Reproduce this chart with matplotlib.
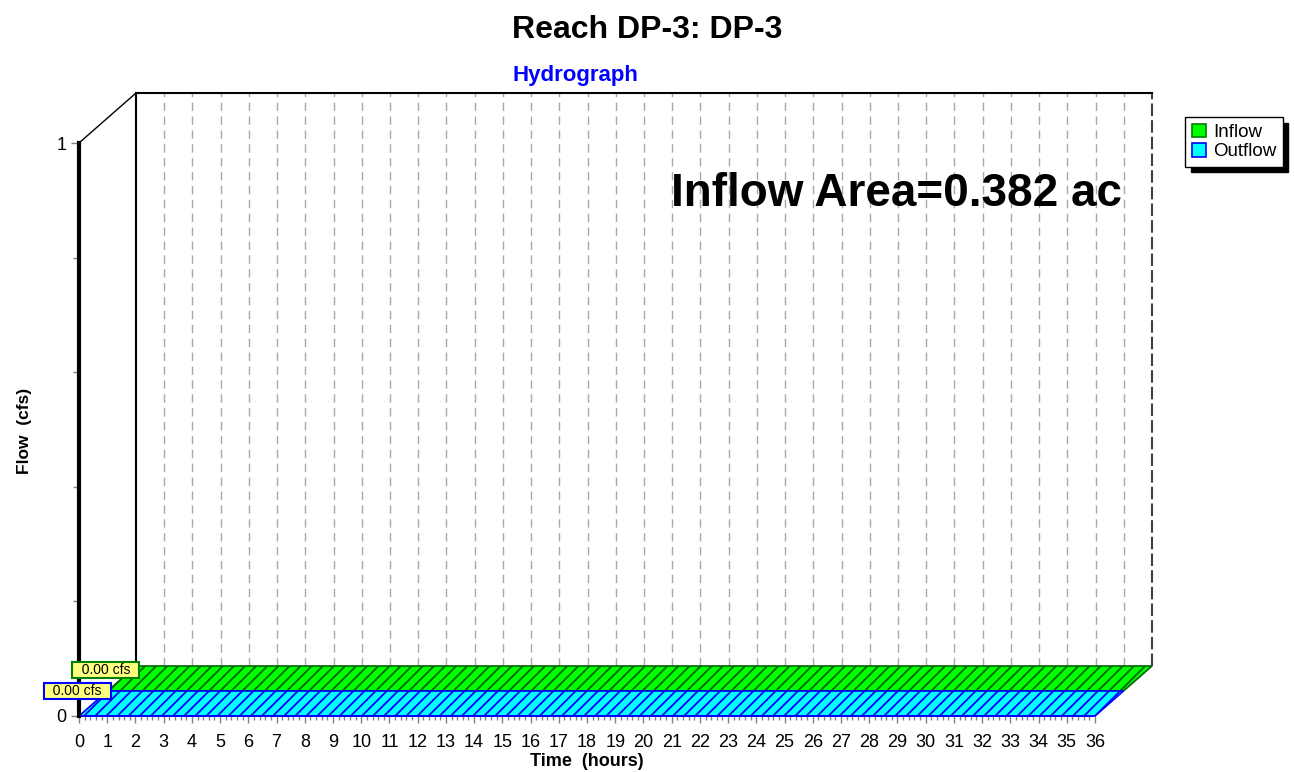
import numpy as np
import matplotlib
matplotlib.use("Agg")
import matplotlib.pyplot as plt
from matplotlib.patches import Polygon, Patch
from matplotlib.ticker import MultipleLocator

plt.rcParams['font.family'] = ['Liberation Sans', 'DejaVu Sans']
plt.rcParams['hatch.linewidth'] = 1.3

# hydrograph data (all zero flow)
time_hr = np.array([0.0, 36.0])
inflow_cfs = np.array([0.00, 0.00])
outflow_cfs = np.array([0.00, 0.00])
inflow_peak = 0.00
outflow_peak = 0.00
inflow_area_ac = 0.382

W, H = 1294, 772
fig = plt.figure(figsize=(W / 100, H / 100), dpi=100)

# front axes box in pixels
ax_l, ax_r, ax_t, ax_b = 79, 1095, 143, 716
ax = fig.add_axes([ax_l / W, 1 - ax_b / H, (ax_r - ax_l) / W, (ax_b - ax_t) / H])
xmax, ymax = 36, 1
ax.set_xlim(0, xmax)
ax.set_ylim(0, ymax)

# 3d depth offset (57px right, 50px up) in data units
ox = 57 / (ax_r - ax_l) * xmax
oy = 50 / (ax_b - ax_t) * ymax


def slab(t, q, d0, d1, fc, ec):
    front = np.column_stack([t + d0 * ox, q + d0 * oy])
    back = np.column_stack([t + d1 * ox, q + d1 * oy])[::-1]
    ax.add_patch(Polygon(np.vstack([front, back]), closed=True, facecolor=fc,
                         edgecolor=ec, hatch='///', lw=1.2, clip_on=False, zorder=3))
    ax.fill_between(t + d0 * ox, d0 * oy, q + d0 * oy, facecolor=fc, edgecolor=ec,
                    hatch='///', lw=1.2, clip_on=False, zorder=3)


# back wall grid
for h in range(1, 36):
    ax.plot([h + ox, h + ox], [oy, ymax + oy], color='#a8a8a8', lw=1,
            ls=(0, (6, 4)), clip_on=False, zorder=1)
ax.plot([xmax + ox, xmax + ox], [oy, ymax + oy], color='#404040', lw=1.5,
        ls=(0, (6, 2)), clip_on=False, zorder=1)
ax.plot([ox, ox], [oy, ymax + oy], color='black', lw=1.5, clip_on=False, zorder=2)
ax.plot([ox, xmax + ox], [ymax + oy, ymax + oy], color='black', lw=1.5,
        clip_on=False, zorder=2)
ax.plot([0, ox], [ymax, ymax + oy], color='black', lw=1, clip_on=False, zorder=2)

slab(time_hr, inflow_cfs, 0.5, 1.0, '#00ff00', '#006400')
slab(time_hr, outflow_cfs, 0.0, 0.5, '#00ffff', '#0000ff')

# peak labels
ax.annotate('  %.2f cfs  ' % inflow_peak, xy=(ox, inflow_peak + oy), xytext=(2, -4),
            textcoords='offset pixels', ha='right', va='center', fontsize=10,
            bbox=dict(boxstyle='square,pad=0.1', fc='#ffff80', ec='#008000', lw=1.5),
            annotation_clip=False, zorder=5)
ax.annotate('  %.2f cfs  ' % outflow_peak, xy=(0.5 * ox, outflow_peak + 0.5 * oy),
            xytext=(2, 0), textcoords='offset pixels', ha='right', va='center',
            fontsize=10,
            bbox=dict(boxstyle='square,pad=0.1', fc='#ffff80', ec='#0000ff', lw=1.5),
            annotation_clip=False, zorder=5)

# axes styling
for s in ['top', 'right', 'bottom']:
    ax.spines[s].set_visible(False)
ax.spines['left'].set_linewidth(3)
ax.spines['left'].set_zorder(4)
ax.set_xticks(range(0, 37))
ax.xaxis.set_minor_locator(MultipleLocator(0.2))
ax.set_yticks([0, 1])
ax.yaxis.set_minor_locator(MultipleLocator(0.2))
ax.tick_params(axis='both', which='major', color='#808080', labelsize=13, width=1)
ax.tick_params(axis='x', which='major', length=5, pad=8)
ax.tick_params(axis='x', which='minor', length=3, width=1, color='#808080')
ax.tick_params(axis='y', which='major', length=6, pad=3)
ax.tick_params(axis='y', which='minor', length=4, width=1, color='#808080')
ax.patch.set_visible(False)

fig.text(ax_l / W + (ax_r - ax_l) / W / 2, 1 - 762 / H, 'Time  (hours)', ha='center',
         va='center', fontsize=13, fontweight='bold')
fig.text(25 / W, 1 - 431 / H, 'Flow  (cfs)', ha='center', va='center', rotation=90,
         fontsize=12.5, fontweight='bold')
fig.text(0.5, 1 - 30 / H, 'Reach DP-3: DP-3', ha='center', va='center',
         fontsize=23, fontweight='bold')
fig.text(575.5 / W, 1 - 75 / H, 'Hydrograph', ha='center', va='center',
         fontsize=16, fontweight='bold', color='#0000ff')
fig.text(1122 / W, 1 - 194 / H, 'Inflow Area=%.3f ac' % inflow_area_ac, ha='right',
         va='center', fontsize=33, fontweight='bold')

handles = [Patch(fc='#00ff00', ec='#008000', lw=1.2, label='Inflow'),
           Patch(fc='#00ffff', ec='#0000ff', lw=1.2, label='Outflow')]
leg = fig.legend(handles=handles, loc='upper left', bbox_to_anchor=(1185 / W, 1 - 117 / H),
                 fontsize=13.5, frameon=True, fancybox=False, edgecolor='black',
                 framealpha=1, shadow={'ox': 4, 'oy': -4, 'color': 'black', 'alpha': 1},
                 handlelength=0.75, handleheight=0.75, handletextpad=0.4, borderpad=0.35,
                 labelspacing=0.1, borderaxespad=0)
leg.get_frame().set_linewidth(1)

fig.savefig('out.png', dpi=100)
